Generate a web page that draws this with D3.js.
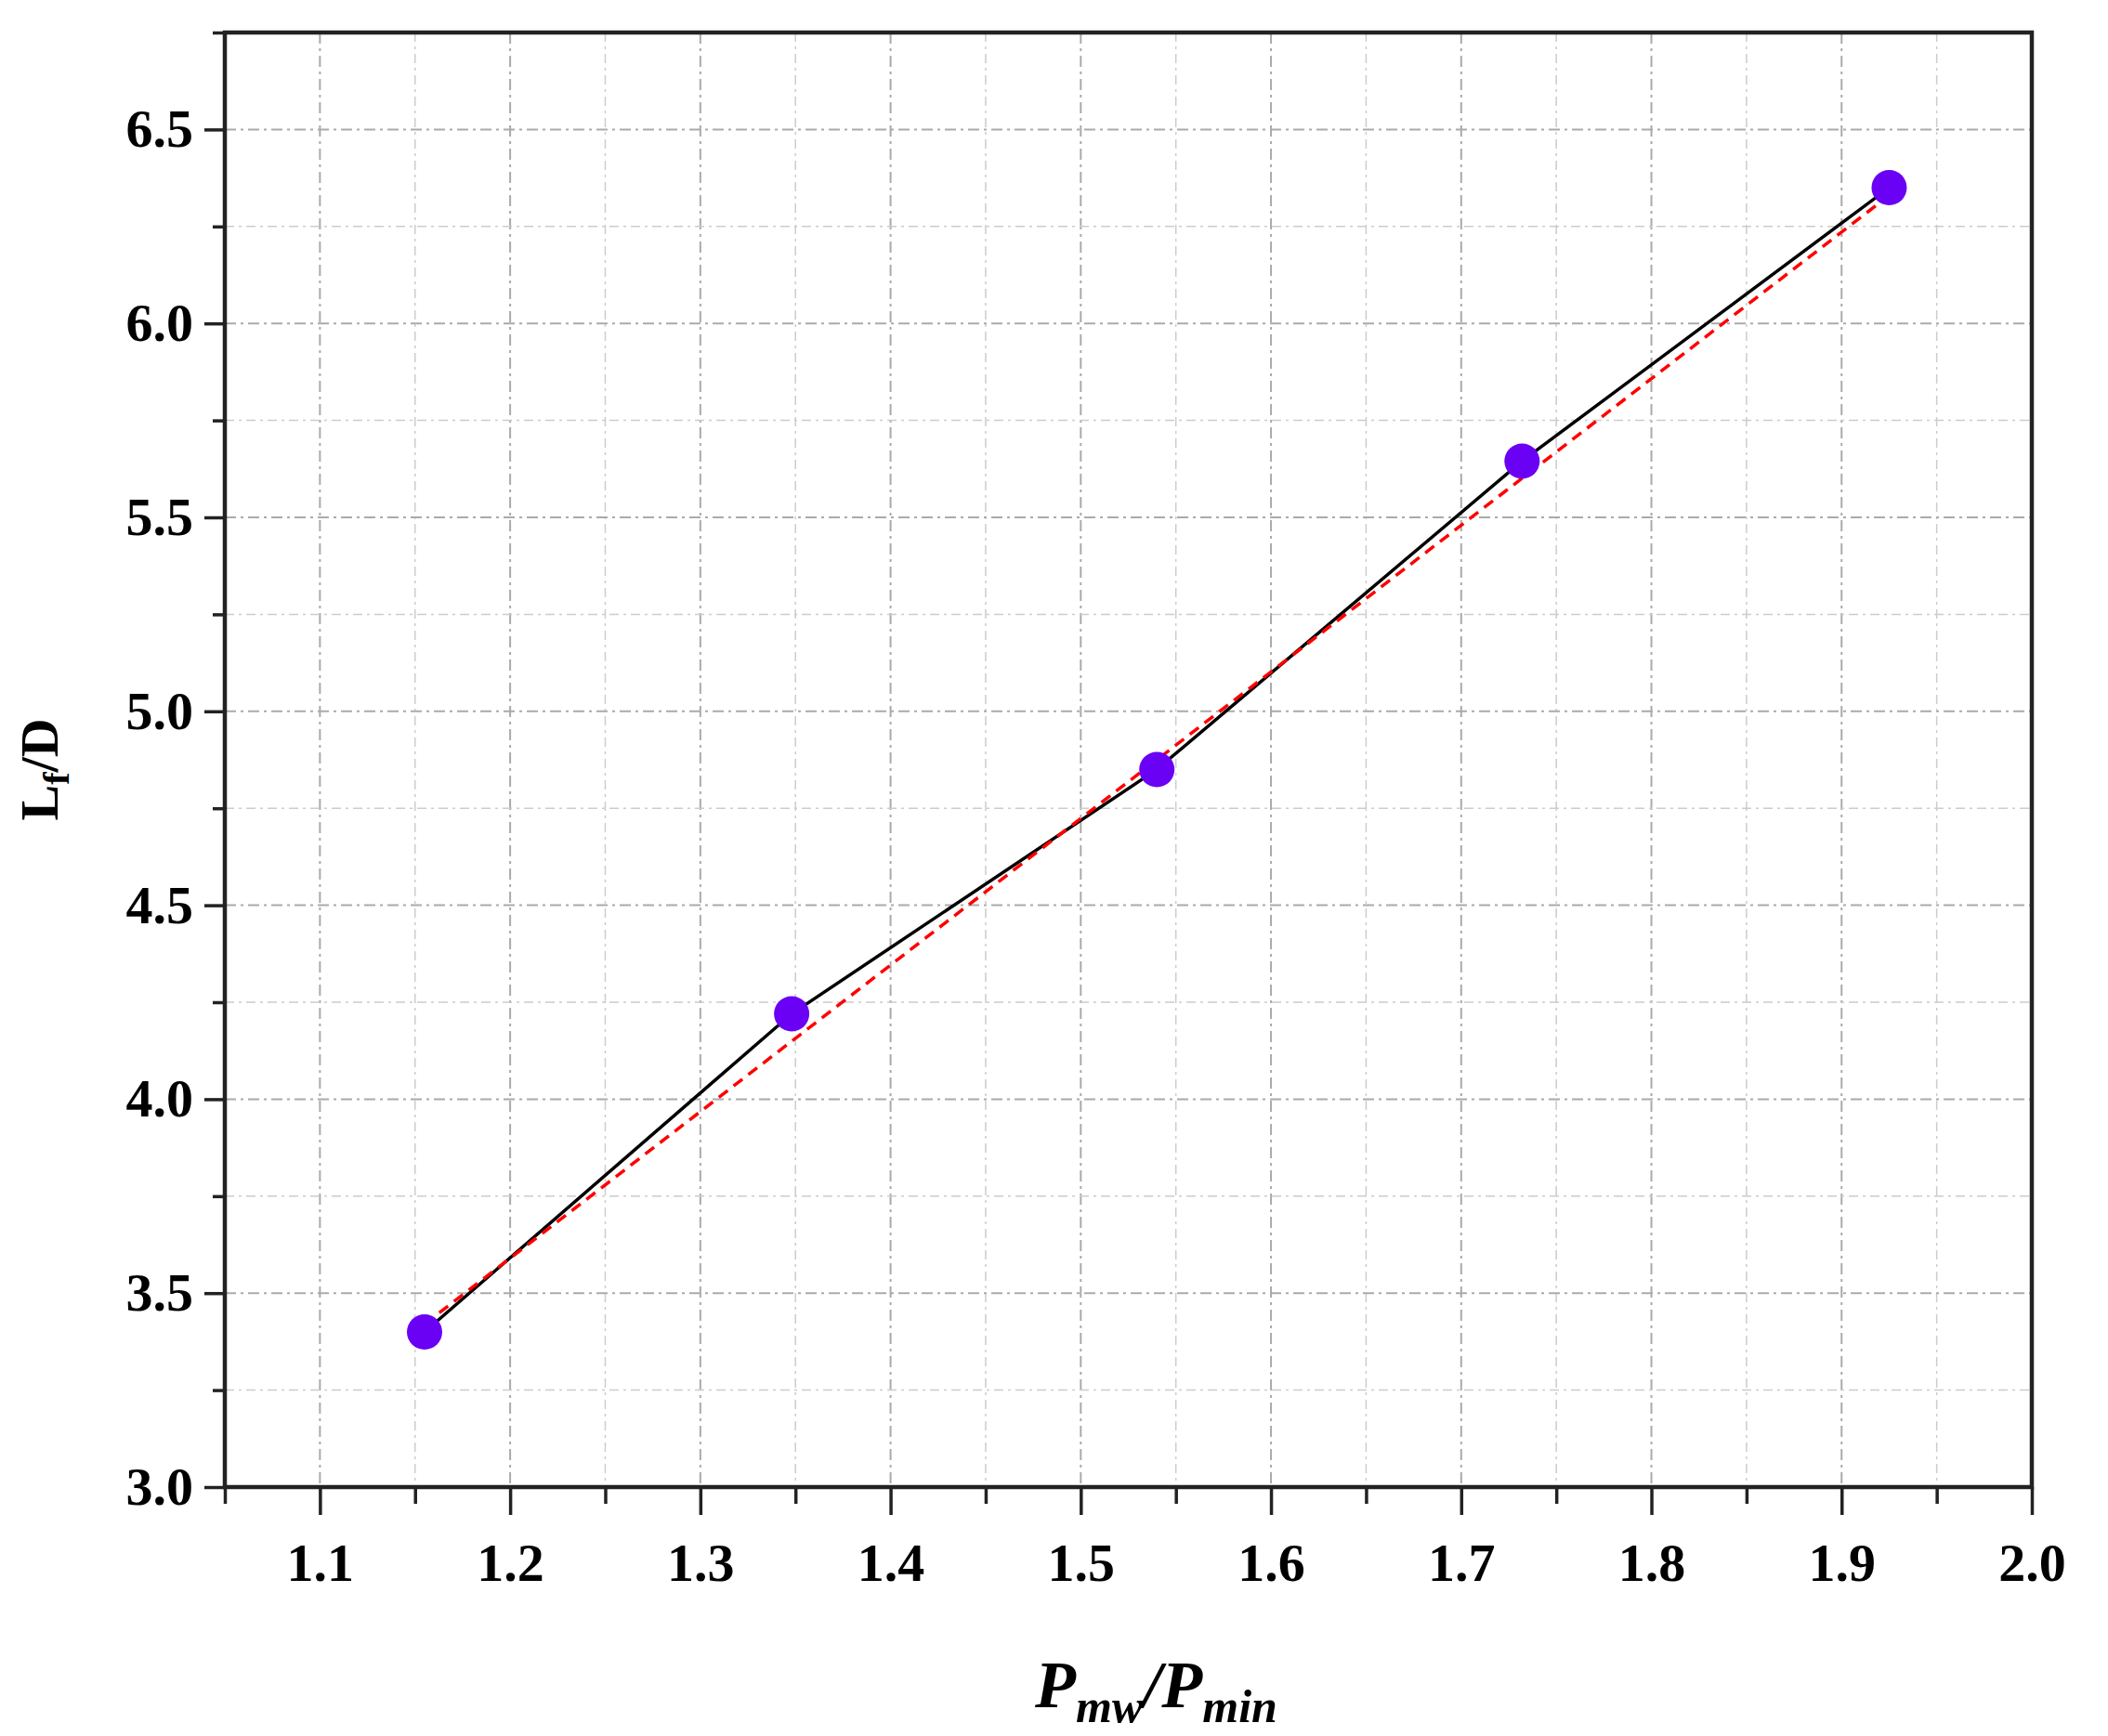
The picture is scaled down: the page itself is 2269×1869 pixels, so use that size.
<!DOCTYPE html>
<html>
<head>
<meta charset="utf-8">
<script src="https://cdn.jsdelivr.net/npm/d3@7"></script>
<style>body{margin:0;background:#fff;} text{font-family:"Liberation Serif","Times New Roman",serif;}</style>
</head>
<body>
<div id="chart"></div>
<script>
const xValues = [1.155, 1.348, 1.54, 1.732, 1.925];
const yValues = [3.40, 4.22, 4.85, 5.645, 6.35];
const fitX = [1.155, 1.925];
const fitY = [3.42, 6.33];
const xTicks = [1.1, 1.2, 1.3, 1.4, 1.5, 1.6, 1.7, 1.8, 1.9, 2.0];
const yTicks = [3.0, 3.5, 4.0, 4.5, 5.0, 5.5, 6.0, 6.5];

const width = 2269, height = 1869;
const margin = { top: 35, right: 82, bottom: 268, left: 242 };
const w = width - margin.left - margin.right;
const h = height - margin.top - margin.bottom;

const svg = d3.select("#chart").append("svg")
  .attr("width", width).attr("height", height);
const g = svg.append("g").attr("transform", `translate(${margin.left},${margin.top})`);

const x = d3.scaleLinear().domain([1.05, 2.0]).range([0, w]);
const y = d3.scaleLinear().domain([3.0, 6.75]).range([h, 0]);

const xMinor = d3.range(1.05, 2.001, 0.1).map(v => +v.toFixed(2));
const yMinor = d3.range(3.25, 6.76, 0.5).map(v => +v.toFixed(2));

// grid
g.selectAll(".gx").data(xTicks.filter(v => v < 2.0)).enter().append("line")
  .attr("x1", d => x(d)).attr("x2", d => x(d)).attr("y1", 0).attr("y2", h)
  .attr("stroke", "#aaa").attr("stroke-width", 2).attr("stroke-dasharray", "12,5,3,5");
g.selectAll(".gxm").data(xMinor.filter(v => v > 1.05 && v < 2.0)).enter().append("line")
  .attr("x1", d => x(d)).attr("x2", d => x(d)).attr("y1", 0).attr("y2", h)
  .attr("stroke", "#ccc").attr("stroke-width", 1.5).attr("stroke-dasharray", "10,5,3,5");
g.selectAll(".gy").data(yTicks.filter(v => v > 3.0)).enter().append("line")
  .attr("x1", 0).attr("x2", w).attr("y1", d => y(d)).attr("y2", d => y(d))
  .attr("stroke", "#aaa").attr("stroke-width", 2).attr("stroke-dasharray", "12,5,3,5");
g.selectAll(".gym").data(yMinor).enter().append("line")
  .attr("x1", 0).attr("x2", w).attr("y1", d => y(d)).attr("y2", d => y(d))
  .attr("stroke", "#ccc").attr("stroke-width", 1.5).attr("stroke-dasharray", "10,5,3,5");

// data line
const line = d3.line().x(d => x(d[0])).y(d => y(d[1]));
g.append("path").datum(d3.zip(xValues, yValues)).attr("d", line)
  .attr("fill", "none").attr("stroke", "#000").attr("stroke-width", 3.5);
g.append("path").datum(d3.zip(fitX, fitY)).attr("d", line)
  .attr("fill", "none").attr("stroke", "#ff0000").attr("stroke-width", 3.5).attr("stroke-dasharray", "12,8");
g.selectAll(".pt").data(d3.zip(xValues, yValues)).enter().append("circle")
  .attr("cx", d => x(d[0])).attr("cy", d => y(d[1])).attr("r", 19).attr("fill", "#6a00f4");

// axes
const xAxis = g.append("g").attr("transform", `translate(0,${h})`)
  .call(d3.axisBottom(x).tickValues(xTicks).tickSize(30).tickPadding(30).tickFormat(d3.format(".1f")));
const xAxisMinor = g.append("g").attr("transform", `translate(0,${h})`)
  .call(d3.axisBottom(x).tickValues(xMinor).tickSize(18).tickFormat(""));
const yAxis = g.append("g")
  .call(d3.axisLeft(y).tickValues(yTicks).tickSize(22).tickPadding(12).tickFormat(d3.format(".1f")));
const yAxisMinor = g.append("g")
  .call(d3.axisLeft(y).tickValues(yMinor).tickSize(13).tickFormat(""));
[xAxis, xAxisMinor, yAxis, yAxisMinor].forEach(a => {
  a.select(".domain").remove();
  a.selectAll("line").attr("stroke", "#222").attr("stroke-width", 3.5);
  a.selectAll("text").attr("font-size", 58).attr("font-weight", "bold")
    .attr("font-family", "Liberation Serif").attr("fill", "#000");
});

g.append("rect").attr("width", w).attr("height", h)
  .attr("fill", "none").attr("stroke", "#222").attr("stroke-width", 4.5);

// labels
const xl = svg.append("text").attr("x", margin.left + w / 2 + 30).attr("y", 1838)
  .attr("text-anchor", "middle").attr("font-size", 72).attr("font-weight", "bold").attr("font-style", "italic");
xl.append("tspan").text("P");
xl.append("tspan").text("mw").attr("font-size", 50).attr("dy", 16);
xl.append("tspan").text("/P").attr("dy", -16);
xl.append("tspan").text("min").attr("font-size", 50).attr("dy", 16);

const yl = svg.append("text").attr("transform", `translate(62,${margin.top + y(4.85)}) rotate(-90)`)
  .attr("text-anchor", "middle").attr("font-size", 58).attr("font-weight", "bold");
yl.append("tspan").text("L");
yl.append("tspan").text("f").attr("font-size", 40).attr("dy", 12);
yl.append("tspan").text("/D").attr("dy", -12);
</script>
</body>
</html>
